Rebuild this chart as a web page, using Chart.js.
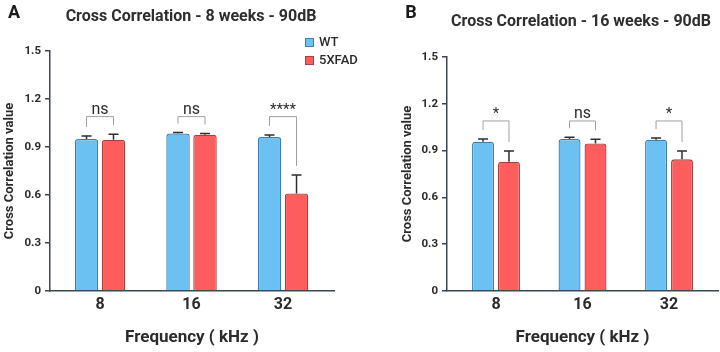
<!DOCTYPE html>
<html><head><meta charset="utf-8">
<script src="https://cdn.jsdelivr.net/npm/chart.js@4"></script>
<style>
body{margin:0;width:720px;height:352px;background:#fff;position:relative;overflow:hidden;font-family:Roboto,sans-serif;}
.panel{position:absolute;top:0;width:360px;height:352px;}
canvas{position:absolute;left:0;top:0;}
.t{position:absolute;white-space:nowrap;transform:translate(-50%,-50%);color:#2a2a2a;}
.letter{font-weight:700;font-size:18px;color:#1a1a1a;}
.title{font-weight:700;font-size:16px;color:#2e2e2e;}
.leg{position:absolute;font-size:13px;font-weight:500;color:#2a2a2a;white-space:nowrap;}
.sw{position:absolute;width:7px;height:7px;}
</style></head>
<body>
<div class="panel" style="left:0"><canvas id="cA" width="360" height="352"></canvas></div>
<div class="panel" style="left:360px"><canvas id="cB" width="360" height="352"></canvas></div>
<div class="t letter" style="left:14px;top:11px">A</div>
<div class="t letter" style="left:411px;top:11px">B</div>
<div class="t title" style="left:191px;top:15px">Cross Correlation - 8 weeks - 90dB</div>
<div class="t title" style="left:581px;top:20px">Cross Correlation - 16 weeks - 90dB</div>
<div id="legend"></div>
<script>
const categories = ['8', '16', '32'];
const seriesNames = ['WT', '5XFAD'];
const yTicks = [0, 0.3, 0.6, 0.9, 1.2, 1.5];
// Panel A (8 weeks)
const wtA = [0.950, 0.985, 0.962];
const wtA_err = [0.019, 0.005, 0.013];
const fadA = [0.945, 0.977, 0.610];
const fadA_err = [0.035, 0.008, 0.115];
const sigA = ['ns', 'ns', '****'];
// Panel B (16 weeks)
const wtB = [0.957, 0.974, 0.970];
const wtB_err = [0.017, 0.011, 0.010];
const fadB = [0.829, 0.946, 0.844];
const fadB_err = [0.068, 0.026, 0.053];
const sigB = ['*', 'ns', '*'];
const bracketLevel = 1.09;

const fills = ['#6bc1f2', '#fd5d5d'];
const borders = ['#3d7fae', '#a84040'];
const errColor = '#2e2e2e';
const axisColor = '#3b4652';
const textColor = '#2b2b2b';

// HTML legend
(function(){
  const lg = document.getElementById('legend');
  const ys = [42, 60];
  seriesNames.forEach((n, i) => {
    const s = document.createElement('div');
    s.className = 'sw';
    s.style.cssText += `left:305px;top:${ys[i]-4}px;background:${fills[i]};border:1px solid ${borders[i]};`;
    lg.appendChild(s);
    const t = document.createElement('div');
    t.className = 'leg';
    t.textContent = n;
    t.style.left = '319px';
    t.style.top = (ys[i] - 8.5) + 'px';
    lg.appendChild(t);
  });
})();

const errorPlugin = {
  id: 'errbars',
  afterDatasetsDraw(chart) {
    const ctx = chart.ctx, y = chart.scales.y;
    chart.data.datasets.forEach((ds, di) => {
      const meta = chart.getDatasetMeta(di);
      meta.data.forEach((el, i) => {
        const top = y.getPixelForValue(ds.data[i].y + ds.errUp[i]);
        ctx.save();
        ctx.strokeStyle = errColor;
        ctx.lineWidth = 1.5;
        ctx.beginPath();
        ctx.moveTo(el.x, el.y);
        ctx.lineTo(el.x, top);
        ctx.moveTo(el.x - 5, top);
        ctx.lineTo(el.x + 5, top);
        ctx.stroke();
        ctx.restore();
      });
    });
  }
};

const bracketPlugin = {
  id: 'brackets',
  afterDatasetsDraw(chart, args, opts) {
    const ctx = chart.ctx, y = chart.scales.y;
    const d0 = chart.data.datasets[0], d1 = chart.data.datasets[1];
    const m0 = chart.getDatasetMeta(0), m1 = chart.getDatasetMeta(1);
    const topY = y.getPixelForValue(opts.level);
    opts.labels.forEach((lab, i) => {
      const lx = m0.data[i].x, rx = m1.data[i].x;
      const lb = y.getPixelForValue(d0.data[i].y + d0.errUp[i]) - 9;
      const rb = y.getPixelForValue(d1.data[i].y + d1.errUp[i]) - 9;
      ctx.save();
      ctx.strokeStyle = '#a0a0a0';
      ctx.lineWidth = 1;
      ctx.beginPath();
      ctx.moveTo(lx, lb); ctx.lineTo(lx, topY); ctx.lineTo(rx, topY); ctx.lineTo(rx, rb);
      ctx.stroke();
      ctx.fillStyle = textColor;
      ctx.textAlign = 'center';
      ctx.textBaseline = 'alphabetic';
      ctx.font = (lab === 'ns' ? '16px' : '15px') + ' Roboto, sans-serif';
      ctx.fillText(lab, (lx + rx) / 2, topY - 3);
      ctx.restore();
    });
  }
};

function makeChart(id, cfg) {
  const mk = (k, vals, errs) => ({
    label: seriesNames[k],
    data: vals.map((v, i) => ({x: i + 1, y: v})),
    errUp: errs,
    backgroundColor: fills[k],
    borderColor: borders[k],
    borderWidth: 1.3,
    borderRadius: 3,
    borderSkipped: 'bottom',
    categoryPercentage: cfg.cp,
    barPercentage: cfg.bp
  });
  return new Chart(document.getElementById(id), {
    type: 'bar',
    data: {datasets: [mk(0, cfg.wt, cfg.wtErr), mk(1, cfg.fad, cfg.fadErr)]},
    options: {
      responsive: false, animation: false, devicePixelRatio: 1,
      layout: {padding: {top: cfg.top, right: cfg.right, left: cfg.padLeft, bottom: 0}},
      plugins: {
        legend: {display: false}, title: {display: false}, tooltip: {enabled: false},
        brackets: {labels: cfg.sig, level: bracketLevel}
      },
      scales: {
        x: {
          type: 'linear', min: cfg.xmin, max: cfg.xmax, offset: false,
          afterBuildTicks: s => { s.ticks = categories.map((c, i) => ({value: i + 1})); },
          ticks: {callback: v => categories[v - 1], autoSkip: false, maxRotation: 0,
                  font: {family: 'Roboto', size: 16, weight: 'bold'}, color: textColor, padding: 4},
          grid: {display: false, drawTicks: false, offset: false},
          border: {display: true, color: axisColor, width: 1.5},
          title: {display: true, text: 'Frequency ( kHz )', color: textColor,
                  font: {family: 'Roboto', size: 17, weight: 'bold'}, padding: {top: 0, bottom: 4}},
          afterFit: s => { s.height = 61; }
        },
        y: {
          min: 0, max: 1.5,
          afterBuildTicks: s => { s.ticks = yTicks.map(v => ({value: v})); },
          ticks: {callback: v => String(v), font: {family: 'Roboto', size: 11.5, weight: 'bold'},
                  color: textColor, padding: 4},
          grid: {drawOnChartArea: false, drawTicks: true, tickLength: 5, color: axisColor, lineWidth: 1.5},
          border: {display: true, color: axisColor, width: 1.5},
          title: {display: true, text: 'Cross Correlation value', color: textColor,
                  font: {family: 'Roboto', size: 13, weight: 'bold'}, padding: {top: 2, bottom: 0}},
          afterFit: s => { s.width = cfg.yWidth; }
        }
      }
    },
    plugins: [errorPlugin, bracketPlugin]
  });
}

makeChart('cA', {wt: wtA, wtErr: wtA_err, fad: fadA, fadErr: fadA_err, sig: sigA,
  top: 51, right: 26, padLeft: 0, yWidth: 50, xmin: 0.4536, xmax: 3.557, cp: 0.59, bp: 0.87});
makeChart('cB', {wt: wtB, wtErr: wtB_err, fad: fadB, fadErr: fadB_err, sig: sigB,
  top: 57, right: 2, padLeft: 38, yWidth: 49, xmin: 0.4335, xmax: 3.566, cp: 0.60, bp: 0.846});
</script>
</body></html>
